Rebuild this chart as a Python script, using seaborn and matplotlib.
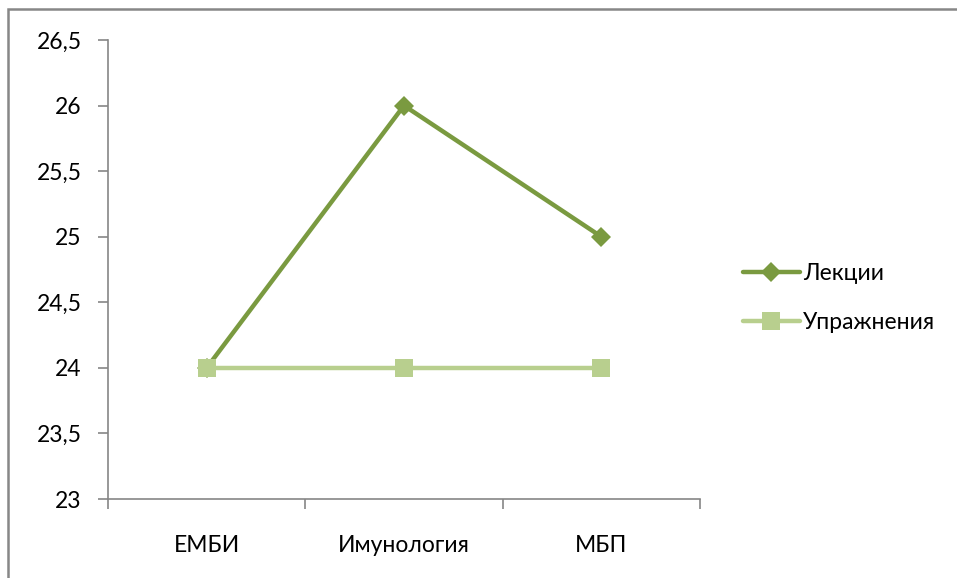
import matplotlib
matplotlib.use("Agg")
import matplotlib.pyplot as plt
import seaborn as sns
import pandas as pd
from matplotlib.patches import Rectangle
from matplotlib.lines import Line2D

categories = ["ЕМБИ", "Имунология", "МБП"]
lekcii = [24, 26, 25]
uprazhnenia = [24, 24, 24]
series_names = ["Лекции", "Упражнения"]
y_ticks = [23, 23.5, 24, 24.5, 25, 25.5, 26, 26.5]

df = pd.DataFrame({
    "cat": categories * 2,
    "val": lekcii + uprazhnenia,
    "series": [series_names[0]] * 3 + [series_names[1]] * 3,
})

sns.set_style("white")
plt.rcParams["font.family"] = ["Lato", "DejaVu Sans"]

fig = plt.figure(figsize=(9.57, 5.78), dpi=100)
ax = fig.add_axes([108/957, 1-499/578, (700-108)/957, (499-40)/578])

palette = {series_names[0]: "#7A9A40", series_names[1]: "#B8CF8E"}
markers = {series_names[0]: "D", series_names[1]: "s"}
sns.lineplot(data=df, x="cat", y="val", hue="series", style="series",
             markers=markers, dashes=False, palette=palette, ax=ax,
             linewidth=3.2, markersize=11, markeredgewidth=0, legend=False)
for line in ax.lines:
    if line.get_marker() == "s":
        line.set_markersize(13)
        line.set_zorder(3)
    else:
        line.set_markersize(10)
        line.set_zorder(2)

ax.set_xlim(-0.5, 2.5)
ax.set_ylim(23, 26.5)
ax.set_yticks(y_ticks)
ax.set_yticklabels([("%g" % v).replace(".", ",") for v in y_ticks])
ax.set_xticks(range(len(categories)))
ax.set_xticklabels(categories)
ax.set_xticks([-0.5, 0.5, 1.5, 2.5], minor=True)
ax.tick_params(axis="x", which="major", length=0, pad=26, labelsize=16.5, colors="black")
ax.tick_params(axis="x", which="minor", length=7, width=1.2, color="#868686", direction="out", bottom=True)
ax.tick_params(axis="y", length=7, width=1.2, color="#868686", direction="out", pad=12,
               labelsize=16.5, left=True, labelcolor="black")
ax.set_xlabel("")
ax.set_ylabel("")
for s in ["top", "right"]:
    ax.spines[s].set_visible(False)
for s in ["left", "bottom"]:
    ax.spines[s].set_color("#868686")
    ax.spines[s].set_linewidth(1.2)

handles = [
    Line2D([], [], color=palette[series_names[0]], marker="D", markersize=10, linewidth=3.2, markeredgewidth=0),
    Line2D([], [], color=palette[series_names[1]], marker="s", markersize=13, linewidth=3.2, markeredgewidth=0),
]
leg = fig.legend(handles, series_names, loc="center left", bbox_to_anchor=(722/957, 1-298/578),
                 frameon=False, fontsize=16.5, handlelength=2.5, handletextpad=0.15, labelspacing=1.2)
for t in leg.get_texts():
    t.set_color("black")

fig.patches.append(Rectangle((8/957, -0.1), 1.2, 1.1 - 9/578, transform=fig.transFigure,
                             fill=False, edgecolor="#878787", linewidth=1.8))

fig.savefig("out.png", dpi=100)
